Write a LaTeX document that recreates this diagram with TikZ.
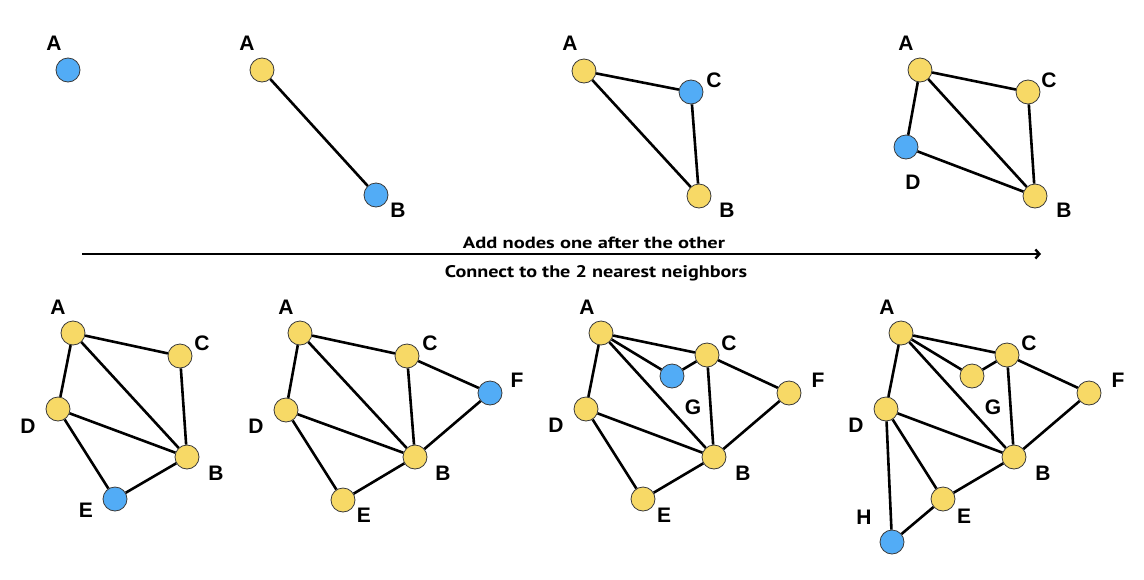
\documentclass[tikz,border=0pt]{standalone}
\usepackage{fontspec}
\setmainfont{Liberation Sans}
\newfontfamily\capfont{PT Sans}
\usetikzlibrary{arrows.meta}
\definecolor{nodeyellow}{HTML}{F7D966}
\definecolor{nodeblue}{HTML}{52ACF6}
\definecolor{nodeedge}{HTML}{3A3A3A}
\tikzset{
  vtx/.style={circle, minimum size=24pt, inner sep=0pt, draw=nodeedge, line width=0.8pt},
  yv/.style={vtx, fill=nodeyellow},
  bv/.style={vtx, fill=nodeblue},
  lbl/.style={font=\fontsize{21}{21}\selectfont\bfseries, inner sep=0pt},
  edge/.style={line width=2.6pt, black},
  captxt/.style={inner sep=0pt, anchor=base},
}
\begin{document}
\begin{tikzpicture}[x=1pt,y=-1pt]
\fill[white] (0,0) rectangle (1144,579);
\useasboundingbox (0,0) rectangle (1144,579);

% ---------- Panel 1 ----------
\node[bv] (p1A) at (68,70) {};
\node[lbl] (p1Al) at (54,43) {A};

% ---------- Panel 2 ----------
\node[yv] (p2A) at (262,70) {};
\node[bv] (p2B) at (376,195) {};
\node[lbl] (p2Al) at (247,43) {A};
\node[lbl] (p2Bl) at (398,210) {B};
\draw[edge] (p2A) -- (p2B);

% ---------- Panel 3 ----------
\node[yv] (p3A) at (584,71) {};
\node[bv] (p3C) at (691,92) {};
\node[yv] (p3B) at (699,196) {};
\node[lbl] (p3Al) at (570,43) {A};
\node[lbl] (p3Cl) at (714,80) {C};
\node[lbl] (p3Bl) at (727,210) {B};
\draw[edge] (p3A) -- (p3C);
\draw[edge] (p3A) -- (p3B);
\draw[edge] (p3C) -- (p3B);

% ---------- Panel 4 ----------
\node[yv] (p4A) at (920,70) {};
\node[yv] (p4C) at (1028,92) {};
\node[bv] (p4D) at (906,147) {};
\node[yv] (p4B) at (1035,196) {};
\node[lbl] (p4Al) at (906,43) {A};
\node[lbl] (p4Cl) at (1049,80) {C};
\node[lbl] (p4Dl) at (913,182) {D};
\node[lbl] (p4Bl) at (1064,210) {B};
\draw[edge] (p4A) -- (p4C);
\draw[edge] (p4A) -- (p4B);
\draw[edge] (p4C) -- (p4B);
\draw[edge] (p4A) -- (p4D);
\draw[edge] (p4D) -- (p4B);

% ---------- Arrow and captions ----------
\coordinate (arS) at (82,254);
\coordinate (arE) at (1041,254);
\draw[line width=2.6pt, -{Straight Barb[length=4pt,width=9pt,line width=2.4pt]}] (arS) -- (arE);
\node[captxt] (cap1) at (594,248) {\resizebox{262pt}{11.5pt}{\capfont\bfseries Add nodes one after the other}};
\node[captxt] (cap2) at (596,277) {\resizebox{302pt}{12pt}{\capfont\bfseries Connect to the 2 nearest neighbors}};

% ---------- Panel 5 ----------
\node[yv] (p5A) at (73,333) {};
\node[yv] (p5C) at (180,356) {};
\node[yv] (p5D) at (58,409) {};
\node[yv] (p5B) at (187,457) {};
\node[bv] (p5E) at (115,499) {};
\node[lbl] (p5Al) at (58,307) {A};
\node[lbl] (p5Cl) at (202,343) {C};
\node[lbl] (p5Dl) at (28,426) {D};
\node[lbl] (p5Bl) at (216,473) {B};
\node[lbl] (p5El) at (86,510) {E};
\draw[edge] (p5A) -- (p5C);
\draw[edge] (p5A) -- (p5B);
\draw[edge] (p5C) -- (p5B);
\draw[edge] (p5A) -- (p5D);
\draw[edge] (p5D) -- (p5B);
\draw[edge] (p5D) -- (p5E);
\draw[edge] (p5E) -- (p5B);

% ---------- Panel 6 ----------
\node[yv] (p6A) at (300,333) {};
\node[yv] (p6C) at (407,356) {};
\node[yv] (p6D) at (286,410) {};
\node[yv] (p6B) at (415,457) {};
\node[yv] (p6E) at (343,500) {};
\node[bv] (p6F) at (490,393) {};
\node[lbl] (p6Al) at (286,307) {A};
\node[lbl] (p6Cl) at (430,343) {C};
\node[lbl] (p6Dl) at (256,426) {D};
\node[lbl] (p6Bl) at (443,473) {B};
\node[lbl] (p6El) at (364,515) {E};
\node[lbl] (p6Fl) at (517,380) {F};
\draw[edge] (p6A) -- (p6C);
\draw[edge] (p6A) -- (p6B);
\draw[edge] (p6C) -- (p6B);
\draw[edge] (p6A) -- (p6D);
\draw[edge] (p6D) -- (p6B);
\draw[edge] (p6D) -- (p6E);
\draw[edge] (p6E) -- (p6B);
\draw[edge] (p6C) -- (p6F);
\draw[edge] (p6F) -- (p6B);

% ---------- Panel 7 ----------
\node[yv] (p7A) at (601,333) {};
\node[yv] (p7C) at (707,355) {};
\node[bv] (p7G) at (672,376) {};
\node[yv] (p7F) at (789,393) {};
\node[yv] (p7D) at (586,409) {};
\node[yv] (p7B) at (714,457) {};
\node[yv] (p7E) at (643,499) {};
\node[lbl] (p7Al) at (587,307) {A};
\node[lbl] (p7Cl) at (729,343) {C};
\node[lbl] (p7Fl) at (818,380) {F};
\node[lbl] (p7Gl) at (693,407) {G};
\node[lbl] (p7Dl) at (556,425) {D};
\node[lbl] (p7Bl) at (743,473) {B};
\node[lbl] (p7El) at (664,515) {E};
\draw[edge] (p7A) -- (p7C);
\draw[edge] (p7A) -- (p7B);
\draw[edge] (p7C) -- (p7B);
\draw[edge] (p7A) -- (p7D);
\draw[edge] (p7D) -- (p7B);
\draw[edge] (p7D) -- (p7E);
\draw[edge] (p7E) -- (p7B);
\draw[edge] (p7C) -- (p7F);
\draw[edge] (p7F) -- (p7B);
\draw[edge] (p7A) -- (p7G);
\draw[edge] (p7G) -- (p7C);

% ---------- Panel 8 ----------
\node[yv] (p8A) at (901,333) {};
\node[yv] (p8C) at (1007,355) {};
\node[yv] (p8G) at (972,376) {};
\node[yv] (p8F) at (1089,393) {};
\node[yv] (p8D) at (886,409) {};
\node[yv] (p8B) at (1014,457) {};
\node[yv] (p8E) at (943,499) {};
\node[bv] (p8H) at (892,542) {};
\node[lbl] (p8Al) at (887,307) {A};
\node[lbl] (p8Cl) at (1029,343) {C};
\node[lbl] (p8Fl) at (1118,380) {F};
\node[lbl] (p8Gl) at (993,407) {G};
\node[lbl] (p8Dl) at (856,425) {D};
\node[lbl] (p8Bl) at (1043,473) {B};
\node[lbl] (p8El) at (964,516) {E};
\node[lbl] (p8Hl) at (864,517) {H};
\draw[edge] (p8A) -- (p8C);
\draw[edge] (p8A) -- (p8B);
\draw[edge] (p8C) -- (p8B);
\draw[edge] (p8A) -- (p8D);
\draw[edge] (p8D) -- (p8B);
\draw[edge] (p8D) -- (p8E);
\draw[edge] (p8E) -- (p8B);
\draw[edge] (p8C) -- (p8F);
\draw[edge] (p8F) -- (p8B);
\draw[edge] (p8A) -- (p8G);
\draw[edge] (p8G) -- (p8C);
\draw[edge] (p8D) -- (p8H);
\draw[edge] (p8H) -- (p8E);
\end{tikzpicture}
\end{document}
